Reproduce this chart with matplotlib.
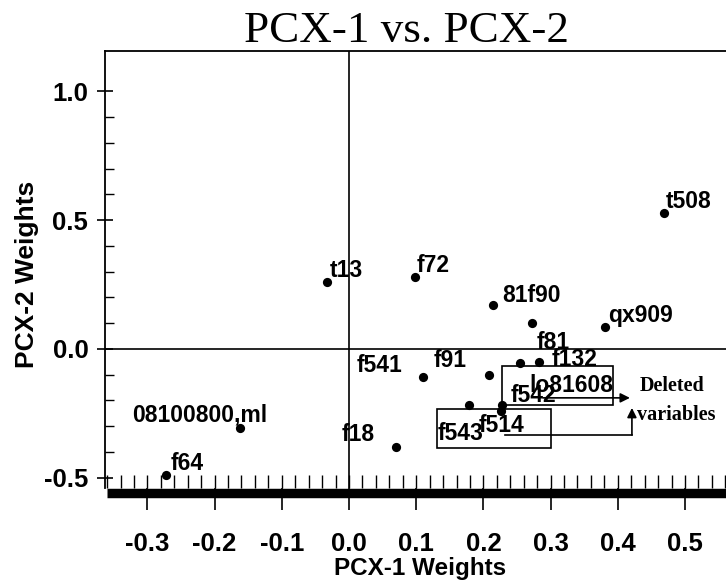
import numpy as np
import matplotlib
matplotlib.use("Agg")
import matplotlib.pyplot as plt
from matplotlib.patches import Rectangle
from matplotlib.lines import Line2D
from matplotlib.ticker import FixedLocator

# PCX loadings for each variable
labels = ["t508", "t13", "f72", "81f90", "f81", "qx909", "f541", "f91",
          "f132", "lo81608", "f542", "f543", "f514", "08100800,ml", "f18", "f64"]
pcx1 = [0.469, -0.033, 0.098, 0.214, 0.272, 0.381, 0.110, 0.208,
        0.283, 0.254, 0.228, 0.178, 0.226, -0.162, 0.070, -0.272]
pcx2 = [0.528, 0.260, 0.280, 0.171, 0.100, 0.087, -0.109, -0.101,
        -0.050, -0.056, -0.218, -0.217, -0.241, -0.307, -0.381, -0.489]

x_major = [-0.3, -0.2, -0.1, 0.0, 0.1, 0.2, 0.3, 0.4, 0.5]
y_major = [-0.5, 0.0, 0.5, 1.0]

# label placement (pixel offset from the point, horizontal alignment)
placement = {
    "t508": (2, 5, "left"), "t13": (3, 5, "left"), "f72": (2, 5, "left"),
    "81f90": (9, 3, "left"), "f81": (5, -26, "left"), "qx909": (3, 5, "left"),
    "f541": (-21, 5, "right"), "f91": (-22, 8, "right"), "f132": (12, -4, "left"),
    "lo81608": (10, -29, "left"), "f542": (8, 3, "left"), "f543": (-31, -35, "left"),
    "f514": (-22, -21, "left"), "08100800,ml": (-108, 6, "left"),
    "f18": (-21, 6, "right"), "f64": (4, 5, "left"),
}

W, H = 726, 581
fig = plt.figure(figsize=(W / 100, H / 100), dpi=100)
ax = fig.add_axes([105 / W, (H - 488) / H, (W - 105) / W, (488 - 51) / H])
ax.set_xlim(-0.3631, 0.561)
ax.set_ylim(-0.540, 1.157)

sans = "Liberation Sans"
serif = "Liberation Serif"
lw = 1.2

# reference lines through the origin
ax.axhline(0, color="black", lw=lw, zorder=1)
ax.axvline(0, color="black", lw=lw, zorder=1)

ax.scatter(pcx1, pcx2, s=44, color="black", zorder=3, linewidths=0)
for name, xv, yv in zip(labels, pcx1, pcx2):
    dx, dy, ha = placement[name]
    ax.annotate(name, (xv, yv), xytext=(dx, dy), textcoords="offset pixels",
                ha=ha, va="baseline", fontsize=16.5, fontweight="bold",
                family=sans, zorder=4)

# boxes around the deleted variables and their arrows
ax.add_patch(Rectangle((0.227, -0.217), 0.166, 0.151, fill=False,
                       ec="black", lw=lw, zorder=2))
ax.add_patch(Rectangle((0.131, -0.384), 0.170, 0.151, fill=False,
                       ec="black", lw=lw, zorder=2))
arrow = dict(arrowstyle="-|>", color="black", lw=lw, mutation_scale=14,
             shrinkA=0, shrinkB=0)
ax.annotate("", xy=(0.418, -0.190), xytext=(0.289, -0.190), arrowprops=arrow)
ax.plot([0.232, 0.421], [-0.334, -0.334], color="black", lw=lw)
ax.annotate("", xy=(0.421, -0.229), xytext=(0.421, -0.334), arrowprops=arrow)
ax.text(0.432, -0.144, "Deleted", ha="left", va="center", family=serif,
        fontweight="bold", fontsize=14.5)
ax.text(0.429, -0.256, "variables", ha="left", va="center", family=serif,
        fontweight="bold", fontsize=14.5)

# spines
for side in ("bottom", "right"):
    ax.spines[side].set_visible(False)
for side in ("top", "left"):
    ax.spines[side].set_linewidth(1.3)

# heavy baseline under the plot area
fig.add_artist(Line2D([107 / W, 1.0], [(H - 492.5) / H] * 2, color="black",
                      lw=6.8, solid_capstyle="butt"))

# x ticks
ax.xaxis.remove_overlapping_locs = False
ax.xaxis.set_major_locator(FixedLocator(x_major))
ax.xaxis.set_minor_locator(FixedLocator(np.round(np.arange(-0.36, 0.561, 0.02), 2)))
ax.set_xticklabels([f"{v:.1f}" for v in x_major])
ax.tick_params(axis="x", which="major", direction="out", length=15.8, width=1.2,
               pad=16, labelsize=18.5)
ax.tick_params(axis="x", which="minor", direction="in", length=9.4, width=1.0)

# y ticks
ax.yaxis.set_major_locator(FixedLocator(y_major))
ax.yaxis.set_minor_locator(FixedLocator(np.round(np.arange(-0.4, 1.0, 0.1), 1)))
ax.set_yticklabels([f"{v:.1f}" for v in y_major])
ax.tick_params(axis="y", which="major", direction="inout", length=12, width=1.2,
               pad=6, labelsize=18.5)
ax.tick_params(axis="y", which="minor", direction="in", length=6.5, width=1.0)

for lab in ax.get_xticklabels() + ax.get_yticklabels():
    lab.set_family(sans)
    lab.set_fontweight("bold")

fig.text(406 / W, (H - 42) / H, "PCX-1 vs. PCX-2", ha="center", va="baseline",
         family=serif, fontsize=32.5)
fig.text(420 / W, (H - 568) / H, "PCX-1 Weights", ha="center", va="center",
         family=sans, fontweight="bold", fontsize=17.5)
fig.text(27 / W, (H - 274) / H, "PCX-2 Weights", ha="center", va="center",
         rotation=90, family=sans, fontweight="bold", fontsize=19)

fig.savefig("out.png", dpi=100)
